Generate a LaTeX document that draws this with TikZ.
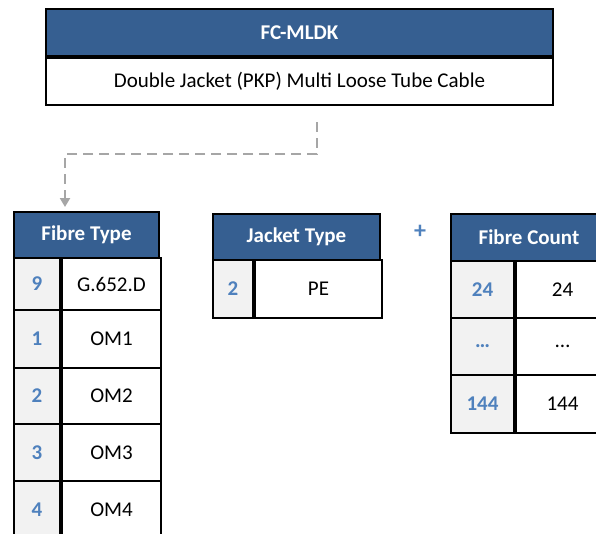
\documentclass[tikz,border=0pt]{standalone}
\usepackage{fontspec}
\setmainfont{Carlito}
\usetikzlibrary{arrows.meta}
\definecolor{hdblue}{RGB}{54,95,145}
\definecolor{codeblue}{RGB}{79,129,189}
\definecolor{cellgray}{RGB}{242,242,242}
\definecolor{linkgray}{RGB}{166,166,166}
\newcommand\cellsize{\fontsize{21}{25}\selectfont}
\tikzset{
  cell/.style={draw=black, line width=2pt, inner sep=0pt, anchor=north west,
    text=black, font=\cellsize},
  hd/.style={cell, fill=hdblue, text=white, font=\cellsize\bfseries},
  codecell/.style={cell, fill=cellgray, text=codeblue, font=\cellsize\bfseries},
  link/.style={draw=linkgray, line width=2pt, dash pattern=on 10pt off 6pt,
    -{Triangle[width=10pt,length=9pt]}}
}
\begin{document}
\begin{tikzpicture}[x=1pt, y=-1pt]
  \clip (0,0) rectangle (596,533);
  \fill[white] (0,0) rectangle (596,533);
  % product code
  \node[hd, minimum width=507pt, minimum height=47pt] (code) at (45,8) {FC-MLDK};
  \node[cell, minimum width=507pt, minimum height=47pt] (desc) at (code.south west)
    {Double Jacket (PKP) Multi Loose Tube Cable};
  % fibre type
  \node[hd, minimum width=145pt, minimum height=46pt] (fth) at (13,211) {Fibre Type};
  \foreach \yv/\hv/\xc/\xv in {257/52/9/G.652.D, 309/58/1/OM1, 367/56/2/OM2,
    423/57/3/OM3, 480/57/4/OM4}
  {
    \node[codecell, minimum width=46pt, minimum height=\hv pt] (ftc\xc) at (13,\yv) {\xc};
    \node[cell, minimum width=99pt, minimum height=\hv pt] (ftv\xc) at (ftc\xc.north east) {\xv};
  }
  % jacket type
  \node[hd, minimum width=167pt, minimum height=46pt] (jth) at (212,213) {Jacket Type};
  \node[codecell, minimum width=40pt, minimum height=58pt] (jtc2) at (212,259) {2};
  \node[cell, minimum width=127pt, minimum height=58pt] (jtv2) at (jtc2.north east) {PE};
  \node[text=codeblue, font=\fontsize{24}{28}\selectfont\bfseries] (plus) at (420,232) {+};
  % fibre count
  \node[hd, minimum width=156pt, minimum height=47pt] (fch) at (450,213) {Fibre Count};
  \foreach \yv/\hv/\xn/\xc in {260/57/a/24, 317/57/b/\dots, 374/58/c/144}
  {
    \node[codecell, minimum width=63pt, minimum height=\hv pt] (fcc\xn) at (450,\yv) {\xc};
    \node[cell, minimum width=93pt, minimum height=\hv pt] (fcv\xn) at (fcc\xn.north east) {\xc};
  }
  \draw[link] ([xshift=17.5pt,yshift=-16pt]desc.south) -- ++(0,32)
    -| ([xshift=-21.5pt,yshift=4pt]fth.north);
\end{tikzpicture}
\end{document}
